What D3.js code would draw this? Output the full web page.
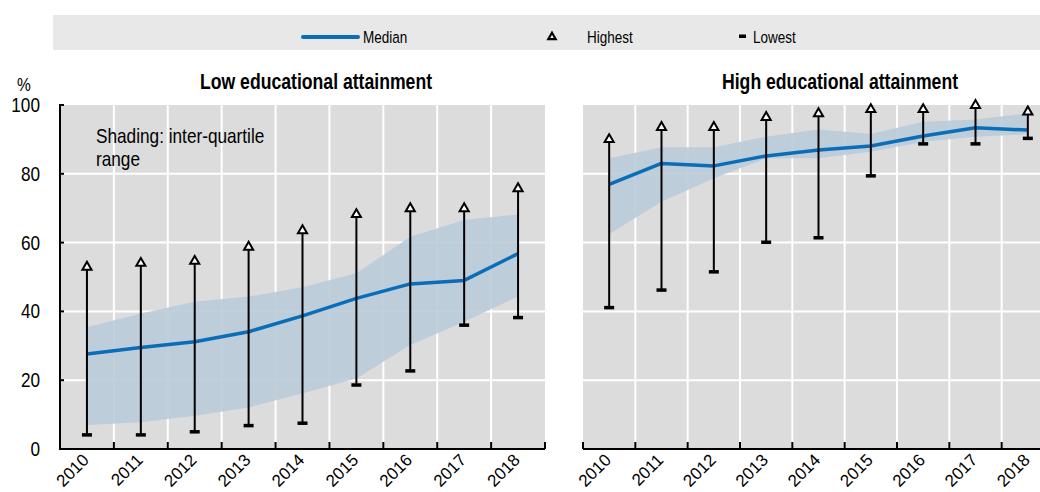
<!DOCTYPE html>
<html>
<head>
<meta charset="utf-8">
<script src="https://cdn.jsdelivr.net/npm/d3@7"></script>
<style>
  html, body { margin: 0; padding: 0; background: #fff; }
  svg { display: block; }
  text { font-family: "Liberation Sans", Arial, sans-serif; fill: #000; }
</style>
</head>
<body>
<svg id="chart" width="1040" height="492"></svg>
<script>
// Years on the horizontal axis
const years = ["2010", "2011", "2012", "2013", "2014", "2015", "2016", "2017", "2018"];
const yTicks = [0, 20, 40, 60, 80, 100];

// Low educational attainment
const lowMedian = [27.6, 29.5, 31.2, 34.1, 38.7, 43.8, 48.0, 49.0, 56.8];
const lowQ3     = [35.4, 39.4, 42.8, 44.3, 47.0, 51.1, 61.7, 66.6, 68.2];
const lowQ1     = [7.0, 7.8, 9.7, 12.1, 16.2, 20.5, 30.2, 37.0, 44.3];
const lowMax    = [52.9, 54.0, 54.6, 58.7, 63.5, 68.2, 69.9, 69.9, 75.7];
const lowMin    = [4.1, 4.1, 5.0, 6.8, 7.5, 18.6, 22.7, 36.0, 38.2];

// High educational attainment
const highMedian = [76.9, 83.0, 82.3, 85.2, 86.9, 88.1, 91.0, 93.4, 92.7];
const highQ3     = [84.5, 87.7, 87.7, 90.8, 92.9, 91.6, 95.1, 95.8, 97.6];
const highQ1     = [62.5, 71.9, 78.7, 84.5, 84.5, 86.4, 89.3, 90.8, 91.5];
const highMax    = [90.0, 93.5, 93.5, 96.4, 97.5, 98.7, 98.7, 99.9, 98.0];
const highMin    = [41.1, 46.2, 51.5, 60.1, 61.4, 79.4, 88.7, 88.7, 90.3];

const svg = d3.select("#chart");
const C = { plot: "#dcdcdc", legend: "#e8e8e8", band: "#b9cbd8", median: "#0a6db8", grid: "#ffffff" };
const NARROW = 0.82; // condensed lettering

// Text with an optional condensed horizontal scale
function label(g, x, y, str, size, o = {}) {
  const rot = o.rotate ? `rotate(${o.rotate})` : "";
  const sx = o.sx != null ? o.sx : NARROW;
  return g.append("text")
    .attr("transform", `translate(${x},${y})${rot}scale(${sx},1)`)
    .attr("font-size", size)
    .attr("text-anchor", o.anchor || "start")
    .attr("font-weight", o.bold ? "bold" : null)
    .attr("dy", o.dy || null)
    .text(str);
}

const y = d3.scaleLinear().domain([0, 100]).range([449, 105]);

// Legend strip
const lg = svg.append("g");
lg.append("rect").attr("x", 53).attr("y", 15).attr("width", 1040 - 53).attr("height", 35).attr("fill", C.legend);
lg.append("line").attr("x1", 303).attr("x2", 358).attr("y1", 37).attr("y2", 37)
  .attr("stroke", C.median).attr("stroke-width", 4).attr("stroke-linecap", "round");
label(lg, 363, 43, "Median", 16.5);
lg.append("path").attr("d", d3.symbol(d3.symbolTriangle, 24)()).attr("transform", "translate(552,37)")
  .attr("fill", "#fff").attr("stroke", "#000").attr("stroke-width", 2.2);
label(lg, 587, 43, "Highest", 16.5);
lg.append("rect").attr("x", 739).attr("y", 34.5).attr("width", 7).attr("height", 3.5).attr("fill", "#000");
label(lg, 753, 43, "Lowest", 16.5);

label(svg, 24, 91, "%", 19, { anchor: "middle" });

function panel(opts) {
  const { range, title, titleX, median, q1, q3, max, min, yAxis } = opts;
  const x = d3.scaleBand().domain(years).range(range).padding(0);
  const cx = d => x(d) + x.bandwidth() / 2;
  const g = svg.append("g");

  g.append("rect").attr("x", range[0]).attr("y", y(100)).attr("width", range[1] - range[0])
    .attr("height", y(0) - y(100)).attr("fill", C.plot);

  // grid
  g.selectAll(".hg").data(yTicks.filter(v => v > 0 && v < 100)).join("line")
    .attr("x1", range[0]).attr("x2", range[1]).attr("y1", d => y(d)).attr("y2", d => y(d))
    .attr("stroke", C.grid).attr("stroke-width", 2);
  g.selectAll(".vg").data(years.slice(1)).join("line")
    .attr("x1", d => x(d)).attr("x2", d => x(d)).attr("y1", y(100)).attr("y2", y(0))
    .attr("stroke", C.grid).attr("stroke-width", 2);

  // inter-quartile band
  const area = d3.area().x((d, i) => cx(years[i])).y0((d, i) => y(q1[i])).y1((d, i) => y(q3[i]));
  g.append("path").datum(years).attr("d", area).attr("fill", C.band).attr("fill-opacity", 0.9);

  // median line
  const line = d3.line().x((d, i) => cx(years[i])).y(d => y(d));
  g.append("path").datum(median).attr("d", line).attr("fill", "none")
    .attr("stroke", C.median).attr("stroke-width", 3.5).attr("stroke-linejoin", "round");

  // range whiskers: lowest bar to highest triangle
  g.selectAll(".wh").data(years).join("line")
    .attr("x1", d => cx(d)).attr("x2", d => cx(d))
    .attr("y1", (d, i) => y(min[i])).attr("y2", (d, i) => y(max[i]))
    .attr("stroke", "#000").attr("stroke-width", 2);
  g.selectAll(".lo").data(years).join("rect")
    .attr("x", d => cx(d) - 5).attr("y", (d, i) => y(min[i]) - 1.75)
    .attr("width", 10).attr("height", 3.5).attr("fill", "#000");
  g.selectAll(".hi").data(years).join("path")
    .attr("d", d3.symbol(d3.symbolTriangle, 36)())
    .attr("transform", (d, i) => `translate(${cx(d)},${y(max[i])})`)
    .attr("fill", "#fff").attr("stroke", "#000").attr("stroke-width", 2);

  // bottom axis with inner ticks
  g.append("line").attr("x1", range[0] - (yAxis ? 1 : 0)).attr("x2", range[1])
    .attr("y1", y(0)).attr("y2", y(0)).attr("stroke", "#000").attr("stroke-width", 2);
  const bounds = years.map(d => x(d)).concat([range[1]]);
  g.selectAll(".xt").data(bounds).join("line")
    .attr("x1", d => d).attr("x2", d => d).attr("y1", y(0)).attr("y2", y(0) - 7)
    .attr("stroke", "#000").attr("stroke-width", 2);
  years.forEach(d => label(g, cx(d) + 3, y(0) + 12, d, 17, { anchor: "end", rotate: -45, sx: 1 }));

  if (yAxis) {
    g.append("line").attr("x1", range[0]).attr("x2", range[0]).attr("y1", y(100) - 1).attr("y2", y(0))
      .attr("stroke", "#000").attr("stroke-width", 2);
    g.selectAll(".yt").data(yTicks).join("line")
      .attr("x1", range[0]).attr("x2", range[0] + 4).attr("y1", d => y(d)).attr("y2", d => y(d))
      .attr("stroke", "#000").attr("stroke-width", 2);
    yTicks.forEach(v => label(g, 40, y(v), v, 20, { anchor: "end", dy: "0.35em", sx: 0.86 }));
    label(g, 96, 143, "Shading: inter-quartile", 21);
    label(g, 96, 166, "range", 21);
  }

  label(g, titleX, 89, title, 21.5, { anchor: "middle", bold: true });
}

panel({ range: [60, 545], title: "Low educational attainment", titleX: 316,
        median: lowMedian, q1: lowQ1, q3: lowQ3, max: lowMax, min: lowMin, yAxis: true });
panel({ range: [583, 1054], title: "High educational attainment", titleX: 840,
        median: highMedian, q1: highQ1, q3: highQ3, max: highMax, min: highMin, yAxis: false });
</script>
</body>
</html>
